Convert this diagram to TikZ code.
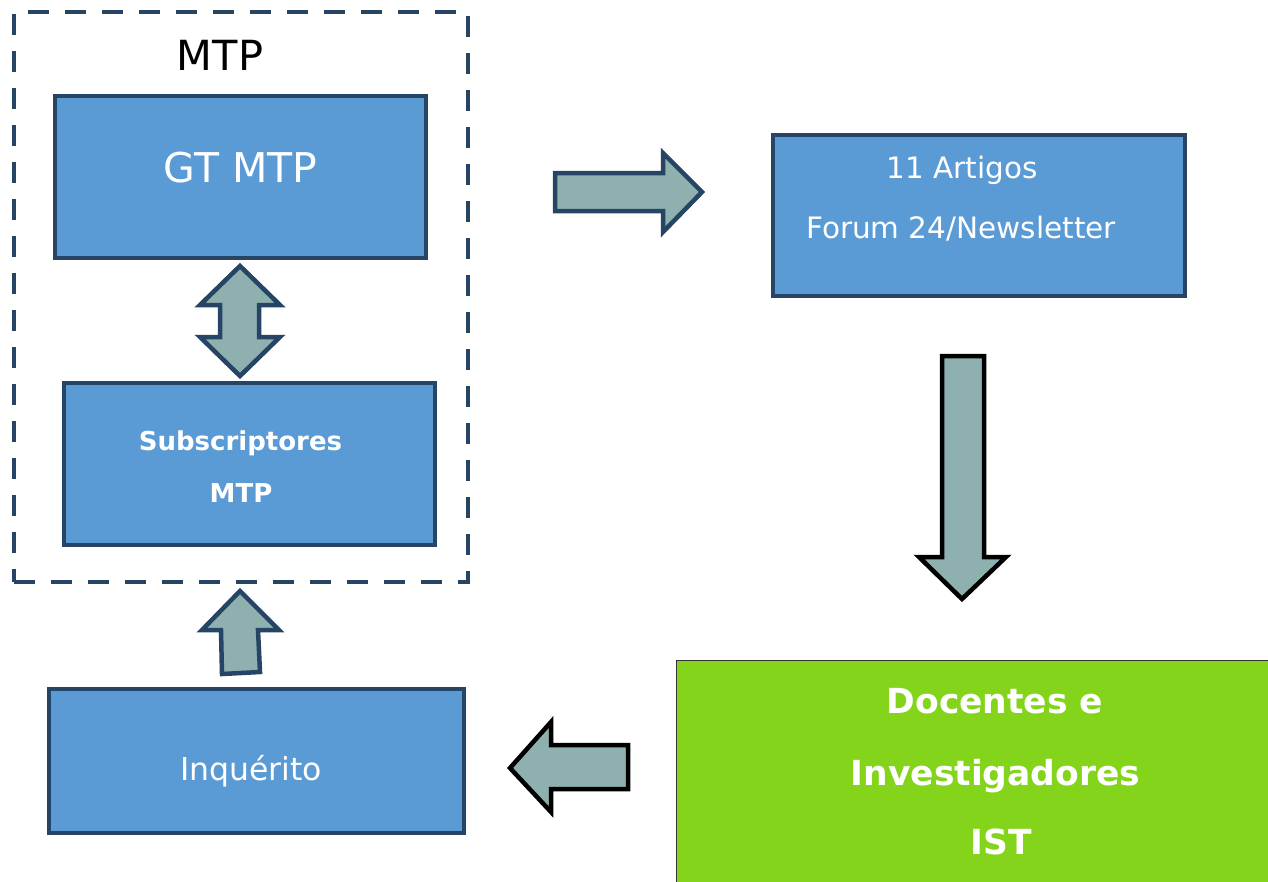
\documentclass[tikz,border=0pt]{standalone}
\usepackage{fontspec}
\setmainfont{DejaVu Sans}
\definecolor{boxblue}{HTML}{5B9BD5}
\definecolor{edgeblue}{HTML}{264463}
\definecolor{arrowfill}{HTML}{8EB0AF}
\definecolor{leafgreen}{HTML}{83D41B}
\tikzset{
  bluebox/.style={draw=edgeblue, fill=boxblue, line width=4.5pt, rectangle, inner sep=0pt},
  whitetxt/.style={text=white, anchor=base, inner sep=0pt},
  blockarrow/.style={fill=arrowfill, line width=4.5pt, line join=miter},
  darkarrow/.style={blockarrow, draw=edgeblue},
  blackarrow/.style={blockarrow, draw=black},
}
\begin{document}
\begin{tikzpicture}[x=1pt,y=-1pt]
\useasboundingbox (0,0) rectangle (1268,881);
% dashed group
\node[draw=edgeblue, line width=4pt, dash pattern=on 21pt off 16pt, minimum width=454, minimum height=570, inner sep=0pt] (group) at (241.25,297.25) {};
\node[anchor=base, inner sep=0pt, font=\fontsize{41.5}{48}\selectfont] (mtplabel) at (220,70) {MTP};
% boxes
\node[bluebox, minimum width=371, minimum height=162] (gt) at (240.5,177) {};
\node[whitetxt, font=\fontsize{41}{48}\selectfont] (gttxt) at (240.5,182) {GT MTP};
\node[bluebox, minimum width=371, minimum height=162] (subs) at (249.5,464) {};
\node[whitetxt, font=\bfseries\fontsize{26}{30}\selectfont] (substxt1) at (240.5,450) {Subscriptores};
\node[whitetxt, font=\bfseries\fontsize{26}{30}\selectfont] (substxt2) at (241,502) {MTP};
\node[bluebox, minimum width=415, minimum height=144] (inq) at (256.5,761) {};
\node[whitetxt, font=\fontsize{31.5}{36}\selectfont] (inqtxt) at (251,780) {Inquérito};
\node[bluebox, minimum width=412, minimum height=161] (art) at (979,215.5) {};
\node[whitetxt, font=\fontsize{29.5}{34}\selectfont] (arttxt1) at (962,178) {11 Artigos};
\node[whitetxt, font=\fontsize{29.5}{34}\selectfont] (arttxt2) at (961,238) {Forum 24/Newsletter};
% green box (runs past the picture's edge)
\fill[leafgreen] (676,660) rectangle (1280,895);
\draw[line width=1pt, black!80] (1280,660) -- (676,660) -- (676,895);
\node[whitetxt, font=\bfseries\fontsize{34.5}{40}\selectfont] (doctxt1) at (995,713) {Docentes e};
\node[whitetxt, font=\bfseries\fontsize{34.5}{40}\selectfont] (doctxt2) at (995.5,785) {Investigadores};
\node[whitetxt, font=\bfseries\fontsize{34.5}{40}\selectfont] (doctxt3) at (1001,854) {IST};
% block arrows
\draw[darkarrow] (240,266) -- (280,305) -- (259,305) -- (259,337) -- (280,337) -- (240,376) -- (200,337) -- (220,337) -- (220,305) -- (200,305) -- cycle;
\draw[darkarrow] (240,591) -- (279,630) -- (258,630) -- (260,672) -- (222,674) -- (221,630) -- (202,630) -- cycle;
\draw[darkarrow] (555,173) -- (663,173) -- (663,153) -- (702,192) -- (663,232) -- (663,211) -- (555,211) -- cycle;
\draw[blackarrow] (942,356) -- (984,356) -- (984,557) -- (1006,557) -- (962,599) -- (919,557) -- (942,557) -- cycle;
\draw[blackarrow] (628,745) -- (551,745) -- (551,722) -- (510,768) -- (551,812) -- (551,789) -- (628,789) -- cycle;
\end{tikzpicture}
\end{document}
